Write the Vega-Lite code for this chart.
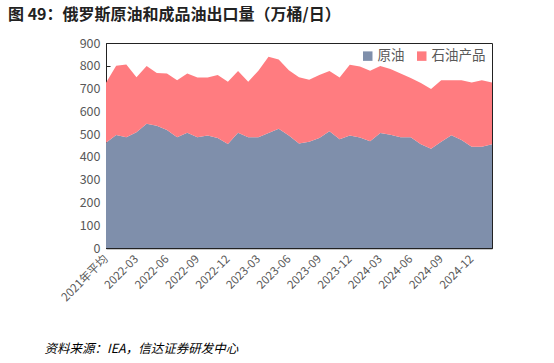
{
  "$schema": "https://vega.github.io/schema/vega-lite/v6.json",
  "autosize": {"type": "none"},
  "padding": {"left": 106, "top": 43, "right": 62, "bottom": 115},
  "width": 386,
  "height": 205,
  "background": "white",
  "title": {
    "text": "图 49：俄罗斯原油和成品油出口量（万桶/日）",
    "anchor": "start",
    "frame": "group",
    "dx": -98,
    "offset": 14,
    "font": "Noto Sans CJK SC",
    "fontSize": 16,
    "fontWeight": "bold",
    "color": "#222222"
  },
  "config": {
    "view": {"stroke": "#222222", "strokeWidth": 1},
    "font": "Noto Sans CJK SC"
  },
  "data": {
    "values": [
      {"m": "2021年平均", "原油": 462, "石油产品": 263},
      {"m": "2022-01", "原油": 496, "石油产品": 304},
      {"m": "2022-02", "原油": 486, "石油产品": 320},
      {"m": "2022-03", "原油": 508, "石油产品": 242},
      {"m": "2022-04", "原油": 546, "石油产品": 253},
      {"m": "2022-05", "原油": 537, "石油产品": 231},
      {"m": "2022-06", "原油": 518, "石油产品": 248},
      {"m": "2022-07", "原油": 486, "石油产品": 251},
      {"m": "2022-08", "原油": 506, "石油产品": 260},
      {"m": "2022-09", "原油": 486, "石油产品": 262},
      {"m": "2022-10", "原油": 494, "石油产品": 254},
      {"m": "2022-11", "原油": 483, "石油产品": 276},
      {"m": "2022-12", "原油": 457, "石油产品": 273},
      {"m": "2023-01", "原油": 506, "石油产品": 271},
      {"m": "2023-02", "原油": 486, "石油产品": 244},
      {"m": "2023-03", "原油": 486, "石油产品": 292},
      {"m": "2023-04", "原油": 505, "石油产品": 335},
      {"m": "2023-05", "原油": 523, "石油产品": 305},
      {"m": "2023-06", "原油": 494, "石油产品": 286},
      {"m": "2023-07", "原油": 459, "石油产品": 291},
      {"m": "2023-08", "原油": 467, "石油产品": 272},
      {"m": "2023-09", "原油": 483, "石油产品": 276},
      {"m": "2023-10", "原油": 513, "石油产品": 264},
      {"m": "2023-11", "原油": 477, "石油产品": 272},
      {"m": "2023-12", "原油": 494, "石油产品": 310},
      {"m": "2024-01", "原油": 485, "石油产品": 312},
      {"m": "2024-02", "原油": 469, "石油产品": 309},
      {"m": "2024-03", "原油": 505, "石油产品": 294},
      {"m": "2024-04", "原油": 497, "石油产品": 289},
      {"m": "2024-05", "原油": 486, "石油产品": 280},
      {"m": "2024-06", "原油": 486, "石油产品": 260},
      {"m": "2024-07", "原油": 456, "石油产品": 268},
      {"m": "2024-08", "原油": 436, "石油产品": 262},
      {"m": "2024-09", "原油": 467, "石油产品": 270},
      {"m": "2024-10", "原油": 495, "石油产品": 242},
      {"m": "2024-11", "原油": 474, "石油产品": 262},
      {"m": "2024-12", "原油": 445, "石油产品": 282},
      {"m": "2025-01", "原油": 445, "石油产品": 292},
      {"m": "2025-02", "原油": 455, "石油产品": 272}
    ]
  },
  "transform": [{"fold": ["原油", "石油产品"], "as": ["type", "v"]}],
  "mark": {"type": "area", "opacity": 1, "strokeWidth": 0},
  "encoding": {
    "x": {
      "field": "m",
      "type": "ordinal",
      "sort": null,
      "scale": {"type": "point", "padding": 0},
      "axis": {
        "title": "资料来源：IEA，信达证券研发中心",
        "titleX": -62,
        "titleY": 100,
        "titleAlign": "left",
        "titleAnchor": "start",
        "titleBaseline": "middle",
        "titleFont": "Noto Sans CJK SC",
        "titleFontStyle": "italic",
        "titleFontWeight": "normal",
        "titleFontSize": 12.5,
        "titleColor": "#000000",
        "labelAngle": -45,
        "labelAlign": "right",
        "labelBaseline": "middle",
        "labelPadding": 13,
        "labelFontSize": 11.5,
        "labelColor": "#595959",
        "labelOverlap": false,
        "labelExpr": "datum.value == '2021年平均' || test(/-(03|06|09|12)$/, datum.value) ? datum.value : ''",
        "tickSize": -4,
        "tickColor": "#222222",
        "domainColor": "#222222",
        "domainWidth": 1.5,
        "grid": false
      }
    },
    "y": {
      "field": "v",
      "type": "quantitative",
      "stack": "zero",
      "scale": {"domain": [0, 900]},
      "axis": {
        "title": null,
        "values": [0, 100, 200, 300, 400, 500, 600, 700, 800, 900],
        "labelFontSize": 12.5,
        "labelColor": "#595959",
        "labelPadding": 10,
        "tickSize": -4,
        "tickColor": "#222222",
        "domainColor": "#222222",
        "grid": false
      }
    },
    "color": {
      "field": "type",
      "type": "nominal",
      "scale": {"domain": ["原油", "石油产品"], "range": ["#7F8FAB", "#FF7C80"]},
      "legend": {
        "title": null,
        "orient": "top-right",
        "direction": "horizontal",
        "offset": 6,
        "symbolType": "square",
        "symbolSize": 90,
        "symbolStrokeWidth": 0,
        "labelFontSize": 13.5,
        "labelColor": "#595959",
        "columnPadding": 10,
        "labelOffset": 3
      }
    },
    "order": {"field": "type", "sort": "ascending"}
  }
}
